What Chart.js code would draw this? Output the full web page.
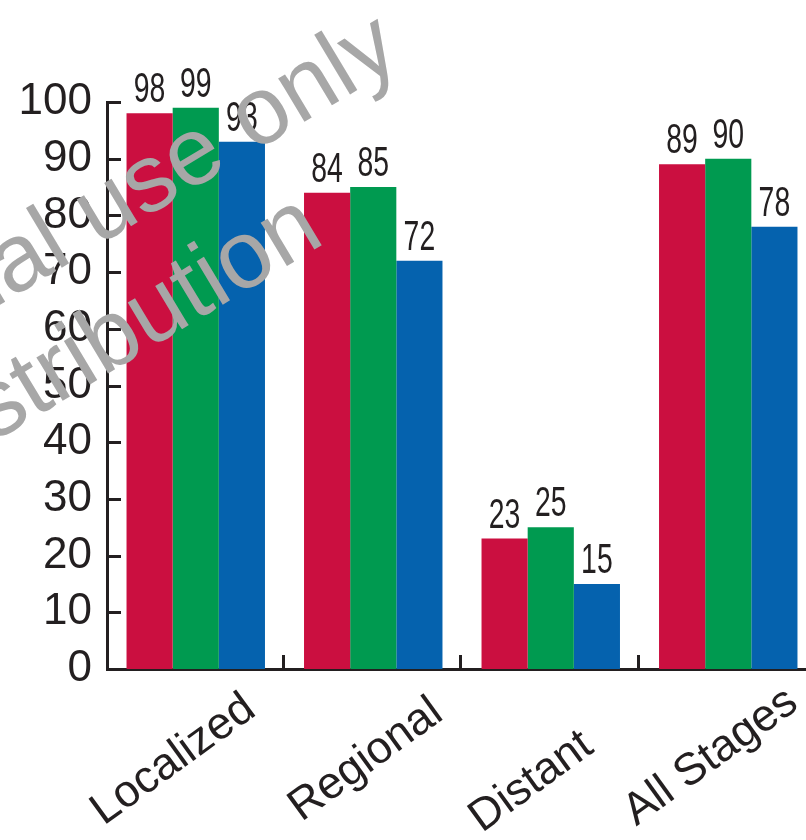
<!DOCTYPE html>
<html>
<head>
<meta charset="utf-8">
<title>Survival by stage</title>
<script src="https://cdn.jsdelivr.net/npm/chart.js@4/dist/chart.umd.min.js"></script>
<style>
    html, body { margin: 0; padding: 0; background: #fff; overflow: hidden; width: 806px; height: 840px; }
    #wrap { width: 830px; height: 840px; }
</style>
</head>
<body>
<div id="wrap"><canvas id="chart" width="830" height="840"></canvas></div>
<script>
    // values
    const stages = ["Localized", "Regional", "Distant", "All Stages"];
    const redValues = [98, 84, 23, 89];
    const greenValues = [99, 85, 25, 90];
    const blueValues = [93, 72, 15, 78];
    const yTicks = [0, 10, 20, 30, 40, 50, 60, 70, 80, 90, 100];
    const watermarkLines = ["For personal use only", "Not for distribution"];

    // hand placed label nudges (dx from category centre, dy below the axis)
    const labelNudge = [[-15, 101], [0, 101], [-12, 123], [-10, 98]];

    const INK = "#231f20";
    const FONT = "'Liberation Sans', Arial, sans-serif";

    // ticks point inwards, labels are drawn by hand
    const axisMarks = {
        id: "axisMarks",
        afterDatasetsDraw: function(chart) {
            const ctx = chart.ctx;
            const xScale = chart.scales.x;
            const yScale = chart.scales.y;
            const area = chart.chartArea;

            ctx.save();
            ctx.strokeStyle = INK;
            ctx.lineWidth = 3;
            ctx.beginPath();
            yTicks.forEach(function(v) {
                const py = Math.round(yScale.getPixelForValue(v)) + 0.5;
                ctx.moveTo(area.left, py);
                ctx.lineTo(area.left + 14, py);
            });
            for (let i = 1; i < stages.length; i++) {
                const px = Math.round((xScale.getPixelForValue(i - 1) + xScale.getPixelForValue(i)) / 2) - 1.5;
                ctx.moveTo(px, area.bottom);
                ctx.lineTo(px, area.bottom - 14);
            }
            ctx.stroke();

            // value labels, narrow type
            ctx.fillStyle = INK;
            ctx.font = "43px " + FONT;
            ctx.textAlign = "center";
            ctx.textBaseline = "alphabetic";
            chart.data.datasets.forEach(function(ds, di) {
                chart.getDatasetMeta(di).data.forEach(function(bar, i) {
                    ctx.save();
                    ctx.translate(bar.x, bar.y - 11);
                    ctx.scale(0.66, 1);
                    ctx.fillText(String(ds.data[i]), 0, 0);
                    ctx.restore();
                });
            });

            // rotated category labels
            ctx.font = "45px " + FONT;
            stages.forEach(function(s, i) {
                ctx.save();
                ctx.translate(xScale.getPixelForValue(i) + labelNudge[i][0], area.bottom + labelNudge[i][1]);
                ctx.rotate(-36 * Math.PI / 180);
                ctx.fillText(s, 0, 0);
                ctx.restore();
            });
            ctx.restore();
        },
        afterDraw: function(chart) {
            const ctx = chart.ctx;
            ctx.save();
            ctx.fillStyle = "#a7a7a7";
            ctx.font = "96px " + FONT;
            ctx.textAlign = "right";
            ctx.textBaseline = "alphabetic";
            const ends = [[404, 62], [327, 242]];
            watermarkLines.forEach(function(t, i) {
                ctx.save();
                ctx.translate(ends[i][0], ends[i][1]);
                ctx.rotate(-31 * Math.PI / 180);
                ctx.fillText(t, 0, 0);
                ctx.restore();
            });
            ctx.restore();
        }
    };

    new Chart(document.getElementById("chart").getContext("2d"), {
        type: "bar",
        data: {
            labels: stages,
            datasets: [
                { label: "Group 1", data: redValues, backgroundColor: "#cb0f40" },
                { label: "Group 2", data: greenValues, backgroundColor: "#009a50" },
                { label: "Group 3", data: blueValues, backgroundColor: "#0562ae" }
            ]
        },
        options: {
            responsive: false,
            animation: false,
            events: [],
            layout: { padding: { top: 102, right: 13, left: 0, bottom: 0 } },
            datasets: {
                bar: { categoryPercentage: 0.78, barPercentage: 1.0, borderWidth: 0 }
            },
            plugins: {
                legend: { display: false },
                tooltip: { enabled: false }
            },
            scales: {
                x: {
                    offset: true,
                    grid: { display: false, drawTicks: false },
                    border: { display: true, color: INK, width: 3 },
                    ticks: { display: false },
                    afterFit: function(scale) { scale.height = 171; }
                },
                y: {
                    min: 0,
                    max: 100,
                    grid: { display: false, drawTicks: false },
                    border: { display: true, color: INK, width: 3 },
                    ticks: {
                        stepSize: 10,
                        padding: 15,
                        color: INK,
                        font: { family: FONT, size: 44 }
                    },
                    afterFit: function(scale) { scale.width = 107; }
                }
            }
        },
        plugins: [axisMarks]
    });
</script>
</body>
</html>
